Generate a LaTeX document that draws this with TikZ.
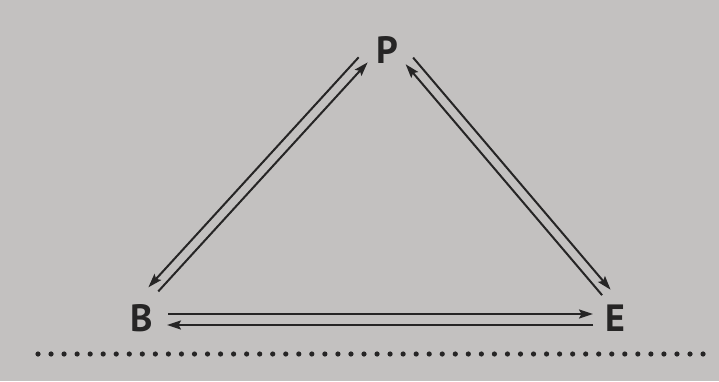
\documentclass[tikz,border=0pt]{standalone}
\usepackage{fontspec}
\setsansfont{PT Sans}
\usepackage{xcolor}
\definecolor{paperGray}{HTML}{C3C1C0}
\definecolor{inkDark}{HTML}{262525}
\usepackage{tikz}
\usetikzlibrary{
    arrows.meta
}
\tikzset{
    % Letters at the corners of the triangle
    vertex/.style={
        font=\sffamily\bfseries\fontsize{38}{42}\selectfont,
        text=inkDark,
        inner sep=0pt,
    },
    % One-way arrow, two of them between each pair of letters
    arrow/.style={
        -{Stealth[length=14pt, width=9pt, inset=2.5pt]},
        line width=2pt,
        draw=inkDark,
    },
    % Dots of the rule along the bottom
    dot/.style={
        fill=inkDark,
    },
}

\begin{document}
\begin{tikzpicture}[x=1pt, y=-1pt]
    \fill[paperGray] (0,0) rectangle (719,381);
    \useasboundingbox (0,0) rectangle (719,381);

    \node (P) [vertex] at (387,50) {P};
    \node (B) [vertex] at (142,318) {B};
    \node (E) [vertex] at (615,318) {E};

    % B and P
    \draw [arrow, shorten <=24.5pt, shorten >=26.9pt] ([shift={(-11.8,-10.8)}]P.center) -- ([shift={(-11.8,-10.8)}]B.center);
    \draw [arrow, shorten <=30.6pt, shorten >=22.2pt] ([shift={(-4.4,-4.0)}]B.center) -- ([shift={(-4.4,-4.0)}]P.center);

    % P and E
    \draw [arrow, shorten <=22.7pt, shorten >=24.4pt] ([shift={(11.4,-9.7)}]P.center) -- ([shift={(11.4,-9.7)}]E.center);
    \draw [arrow, shorten <=25.8pt, shorten >=22.9pt] ([shift={(3.8,-3.2)}]E.center) -- ([shift={(3.8,-3.2)}]P.center);

    % B and E
    \draw [arrow, shorten <=26pt, shorten >=22pt] ([shift={(0,-4)}]B.center) -- ([shift={(0,-4)}]E.center);
    \draw [arrow, shorten <=22pt, shorten >=25pt] ([shift={(0,7)}]E.center) -- ([shift={(0,7)}]B.center);

    % dotted rule
    \foreach \i in {0,...,51}
        \fill[dot] (38+\i*13.04,354) circle (2.6);
\end{tikzpicture}
\end{document}
